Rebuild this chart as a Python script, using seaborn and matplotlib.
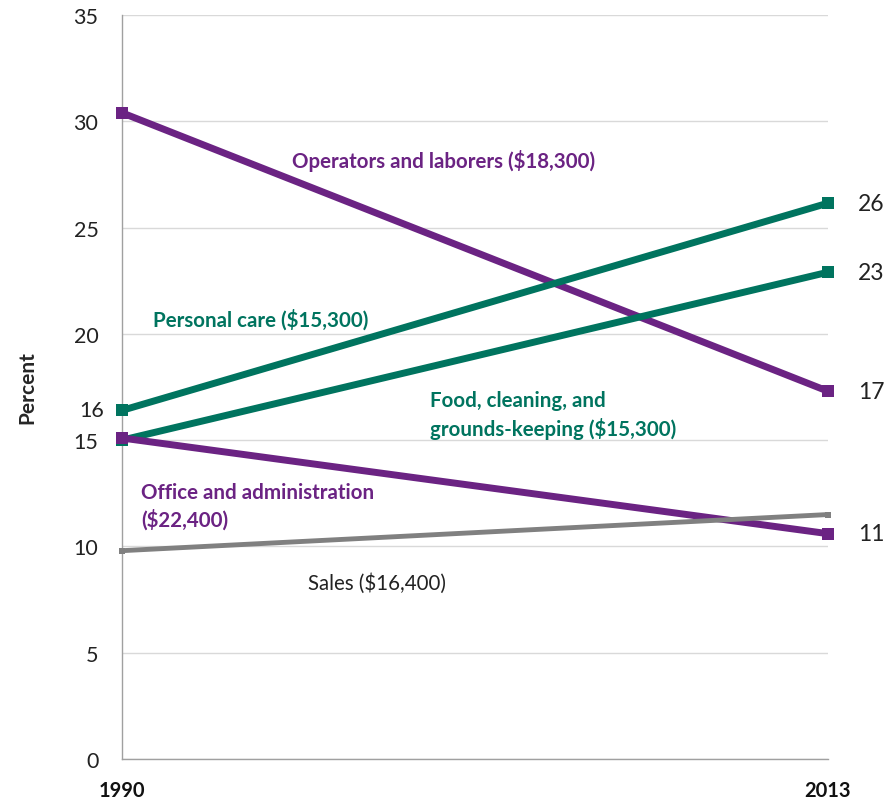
import matplotlib
matplotlib.use("Agg")
import matplotlib.pyplot as plt
import seaborn as sns
import pandas as pd

years = ["1990", "2013"]
series = ["Operators and laborers", "Personal care", "Food, cleaning", "Office and administration", "Sales"]
operators = [30.4, 17.3]
personal_care = [16.4, 26.15]
food = [15.0, 22.9]
office = [15.1, 10.6]
sales = [9.8, 11.5]
end_labels = ["17", "26", "23", "11", None]
start_label_16 = "16"
yticks = [0, 5, 10, 15, 20, 25, 30, 35]

PURPLE = "#6B2383"
TEAL = "#00745F"
GRAY = "#808080"
colors = {"Operators and laborers": PURPLE, "Personal care": TEAL,
          "Food, cleaning": TEAL, "Office and administration": PURPLE, "Sales": GRAY}

values = [operators, personal_care, food, office, sales]
rows = []
for name, vals in zip(series, values):
    for i, v in enumerate(vals):
        rows.append({"series": name, "x": i, "value": v})
df = pd.DataFrame(rows)

sns.set_theme(style="white")
plt.rcParams['font.family'] = ['Lato', 'DejaVu Sans']

fig = plt.figure(figsize=(8.87, 8.04), dpi=100)
ax = fig.add_axes([122/887, 44/804, (828-122)/887, (760-16)/804])

main = df[df.series != "Sales"]
sns.lineplot(data=main, x="x", y="value", hue="series", palette=colors, ax=ax,
             linewidth=5, marker="s", markersize=9, markeredgewidth=0,
             legend=False, clip_on=False, zorder=3)
sns.lineplot(data=df[df.series == "Sales"], x="x", y="value", hue="series", palette=colors, ax=ax,
             linewidth=3.5, marker="s", markersize=5, markeredgewidth=0,
             legend=False, clip_on=False, zorder=3)

ax.set_xlim(0, 1)
ax.set_ylim(0, 35)
ax.set_yticks(yticks)
ax.set_yticklabels([str(t) for t in yticks], fontsize=15.5, color="#222222")
ax.set_xticks([0, 1])
ax.set_xticklabels(years, fontsize=14.5, fontweight="bold", color="#111111")
ax.tick_params(axis="y", length=6, width=1, color="#A0A0A0", direction="out", pad=11)
ax.tick_params(axis="x", length=6, width=1, color="#A0A0A0", direction="out", pad=9)
ax.grid(axis="y", color="#D9D9D9", linewidth=1)
ax.set_axisbelow(True)
for s in ["top", "right"]:
    ax.spines[s].set_visible(False)
for s in ["left", "bottom"]:
    ax.spines[s].set_color("#A0A0A0")
    ax.spines[s].set_linewidth(1)
ax.set_xlabel("")
ax.set_ylabel("Percent", fontsize=15, fontweight="bold", labelpad=26)

# end labels
for vals, lab in zip(values, end_labels):
    if lab:
        ax.text(1.042, vals[1], lab, fontsize=16.5, color="#222222", va="center", ha="left",
                clip_on=False)
ax.text(-0.025, personal_care[0], start_label_16, fontsize=15.5, color="#222222",
        va="center", ha="right", clip_on=False)

# series annotations
FS = 14.8
ax.text(0.241, 28.2, "Operators and laborers ($18,300)", fontsize=FS, fontweight="bold",
        color=PURPLE, va="center")
ax.text(0.044, 20.7, "Personal care ($15,300)", fontsize=FS, fontweight="bold",
        color=TEAL, va="center")
ax.text(0.436, 16.2, "Food, cleaning, and\ngrounds-keeping ($15,300)", fontsize=FS,
        fontweight="bold", color=TEAL, linespacing=1.36, va="center")
ax.text(0.027, 11.9, "Office and administration\n($22,400)", fontsize=FS,
        fontweight="bold", color=PURPLE, linespacing=1.36, va="center")
ax.text(0.263, 8.3, "Sales ($16,400)", fontsize=FS, color="#222222", va="center")

fig.savefig("out.png", dpi=100)
